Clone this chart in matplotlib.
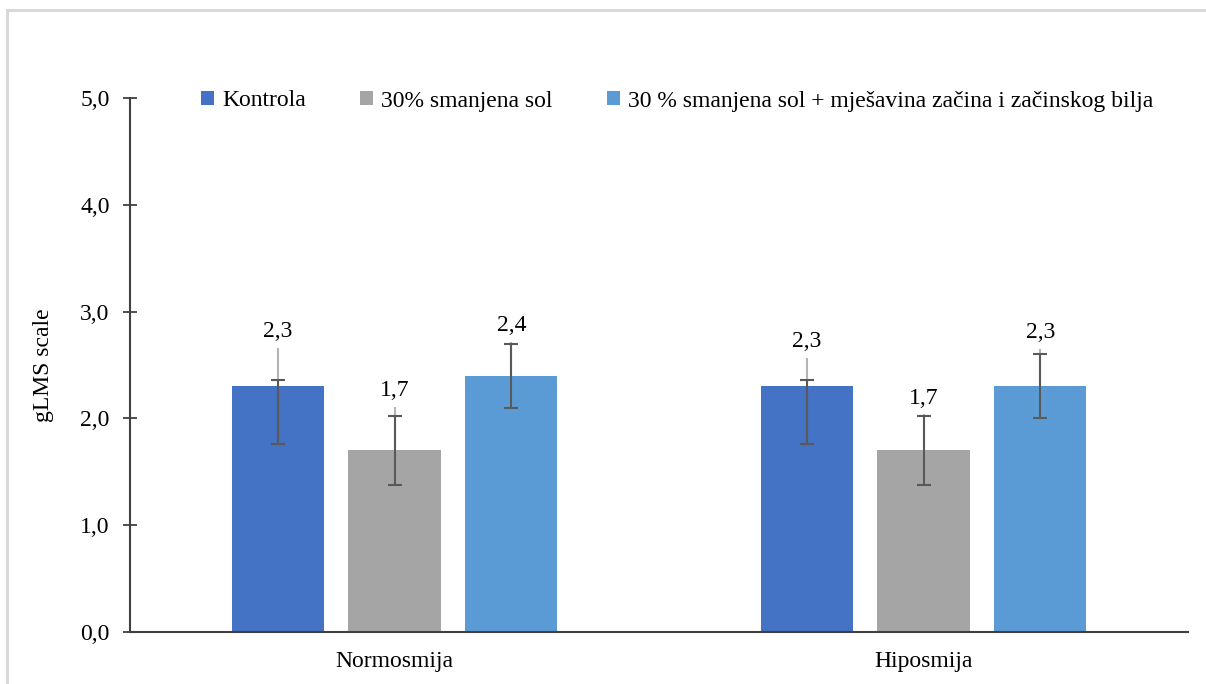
import numpy as np
import matplotlib.pyplot as plt
from matplotlib.patches import Rectangle

plt.rcParams['font.family'] = ['Liberation Serif', 'DejaVu Serif']

categories = ['Normosmija', 'Hiposmija']
series = ['Kontrola', '30% smanjena sol',
          '30 % smanjena sol + mješavina začina i začinskog bilja']
colors = ['#4472C4', '#A5A5A5', '#5B9BD5']

# mean values per series (rows) and category (columns)
values = [[2.3, 2.3],
          [1.7, 1.7],
          [2.4, 2.3]]
# dark error bars (lower / upper end)
err_low = [[1.76, 1.76],
           [1.38, 1.38],
           [2.10, 2.00]]
err_high = [[2.36, 2.36],
            [2.02, 2.02],
            [2.70, 2.60]]
# light grey whiskers above the bars
light_high = [[2.66, 2.57],
              [2.11, 2.04],
              [2.72, 2.65]]

fs = 17
fig = plt.figure(figsize=(12.06, 6.84), dpi=100)
ax = fig.add_axes([130/1206, 52/684, 1058/1206, 534/684])

# light frame round the chart area
fig.patches.append(Rectangle((7/1206, -0.1), 1.2, (684-10)/684 + 0.1,
                             transform=fig.transFigure, fill=False,
                             edgecolor='#d9d9d9', linewidth=2.2))

x = np.arange(len(categories))
width = 0.174
step = 0.221
for i, name in enumerate(series):
    xs = x + (i - 1) * step
    v = np.array(values[i])
    ax.bar(xs, v, width, color=colors[i], label=name, zorder=2)
    lh = np.array(light_high[i])
    ax.vlines(xs, v, lh, color='#b4b4b4', linewidth=1.5, zorder=3)
    lo = v - np.array(err_low[i])
    hi = np.array(err_high[i]) - v
    ax.errorbar(xs, v, yerr=[lo, hi], fmt='none', ecolor='#595959',
                elinewidth=1.5, capsize=4.7, capthick=1.5, zorder=4)
    for xx, vv, tt in zip(xs, v, np.maximum(lh, err_high[i])):
        ax.annotate(f'{vv:.1f}'.replace('.', ','), (xx, tt),
                    xytext=(0, 4), textcoords='offset points',
                    ha='center', va='bottom', fontsize=fs, zorder=5)

ax.set_xlim(-0.5, 1.5)
ax.set_ylim(0, 5)
ax.set_yticks(np.arange(0, 5.01, 1.0))
ax.set_yticklabels([f'{t:.1f}'.replace('.', ',') for t in np.arange(0, 5.01, 1.0)],
                   fontsize=fs)
ax.set_xticks(x)
ax.set_xticklabels(categories, fontsize=fs)
ax.tick_params(axis='x', length=0, pad=14)
ax.tick_params(axis='y', direction='inout', length=9.5, width=1.3,
               color='#404040', pad=10)
for s in ['top', 'right']:
    ax.spines[s].set_visible(False)
for s in ['left', 'bottom']:
    ax.spines[s].set_color('#404040')
    ax.spines[s].set_linewidth(1.5)

ax.set_ylabel('gLMS scale', fontsize=fs, labelpad=19)

fig.legend(loc='center', bbox_to_anchor=(677/1206, 1 - 101/684), ncol=3,
           frameon=False, fontsize=fs, handlelength=0.55, handleheight=0.55,
           handletextpad=0.34, columnspacing=2.3)

fig.savefig('out.png', dpi=100)
